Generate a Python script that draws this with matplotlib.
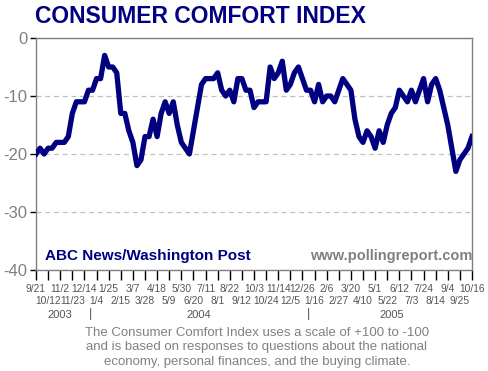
import matplotlib
matplotlib.use("Agg")
import matplotlib.pyplot as plt

# weekly readings, 9/21/2003 .. 10/16/2005
weeks = list(range(109))
comfort = [
    -20, -19, -20, -19, -19, -18, -18, -18, -17, -13,
    -11, -11, -11, -9, -9, -7, -7, -3, -5, -5,
    -6, -13, -13, -16, -18, -22, -21, -17, -17, -14,
    -17, -13, -11, -13, -11, -15, -18, -19, -20, -16,
    -12, -8, -7, -7, -7, -6, -9, -10, -9, -11,
    -7, -7, -9, -9, -12, -11, -11, -11, -5, -7,
    -6, -4, -9, -8, -6, -5, -7, -9, -9, -11,
    -8, -11, -10, -10, -11, -9, -7, -8, -9, -14,
    -17, -18, -16, -17, -19, -16, -18, -15, -13, -12,
    -9, -10, -11, -9, -11, -9, -7, -11, -8, -7,
    -9, -12, -15, -19, -23, -21, -20, -19, -17,
]
tick_labels = [
    "9/21", "10/12", "11/2", "11/23", "12/14", "1/4", "1/25", "2/15", "3/7",
    "3/28", "4/18", "5/9", "5/30", "6/20", "7/11", "8/1", "8/22", "9/12",
    "10/3", "10/24", "11/14", "12/5", "12/26", "1/16", "2/6", "2/27", "3/20",
    "4/10", "5/1", "5/22", "6/12", "7/3", "7/24", "8/14", "9/4", "9/25", "10/16",
]
years = ["2003", "2004", "2005"]
year_pos = [6.0, 40.3, 88.1]
year_breaks = [13.6, 67.6]

navy = "#000080"
gray = "#808080"
font = "Liberation Sans"

fig = plt.figure(figsize=(4.88, 3.71), dpi=100)
ax = fig.add_axes([36 / 488, 1 - 270 / 371, 436 / 488, 232 / 371])

ax.plot(weeks, comfort, color=navy, lw=3.8, solid_joinstyle="round", zorder=3)

ax.set_xlim(0, 108)
ax.set_ylim(-40, 0)
ax.set_yticks([0, -10, -20, -30, -40])
ax.set_yticklabels(["0", "-10", "-20", "-30", "-40"], family=font, fontsize=12, color=gray)
ax.yaxis.grid(True, ls=(0, (4, 3)), color="#c0c0c0", lw=0.9)
ax.set_axisbelow(True)

# alternate labels on two rows: majors on top row, minors underneath
xt = weeks[::3]
ax.set_xticks(xt[::2])
ax.set_xticklabels(tick_labels[::2], family=font, fontsize=7.4, color="#555555")
ax.set_xticks(xt[1::2], minor=True)
ax.set_xticklabels(tick_labels[1::2], minor=True, family=font, fontsize=7.4, color="#555555")
ax.tick_params(axis="x", which="major", direction="out", length=7, width=1, color="black", pad=3)
ax.tick_params(axis="x", which="minor", direction="out", length=7, width=1, color="black", pad=12)
ax.tick_params(axis="y", direction="out", length=4, width=1, color="black", pad=2)

for s in ax.spines.values():
    s.set_color(gray)
    s.set_linewidth(1)

tr = ax.get_xaxis_transform()
for y, p in zip(years, year_pos):
    ax.text(p, -0.195, y, transform=tr, ha="center", va="center",
            family=font, fontsize=8, color="#555555")
for p in year_breaks:
    ax.text(p, -0.19, "|", transform=tr, ha="center", va="center",
            family=font, fontsize=9, color="#555555")

ax.text(0.02, 0.06, "ABC News/Washington Post", transform=ax.transAxes,
        ha="left", va="center", family=font, fontweight="bold", fontsize=11, color=navy)
ax.text(1.0, 0.06, "www.pollingreport.com", transform=ax.transAxes,
        ha="right", va="center", family=font, fontweight="bold", fontsize=10.5, color=gray)

fig.text(35 / 488, 1 - 23 / 371, "CONSUMER COMFORT INDEX", ha="left", va="baseline",
         family=font, fontweight="bold", fontsize=16.5, color=navy)

fig.text(257 / 488, 1 - 327 / 371,
         "The Consumer Comfort Index uses a scale of +100 to -100\n"
         "and is based on responses to questions about the national\n"
         "economy, personal finances, and the buying climate.",
         ha="center", va="top", family=font, fontsize=9.5, color=gray, linespacing=1.25)

fig.savefig("out.png", dpi=100)
